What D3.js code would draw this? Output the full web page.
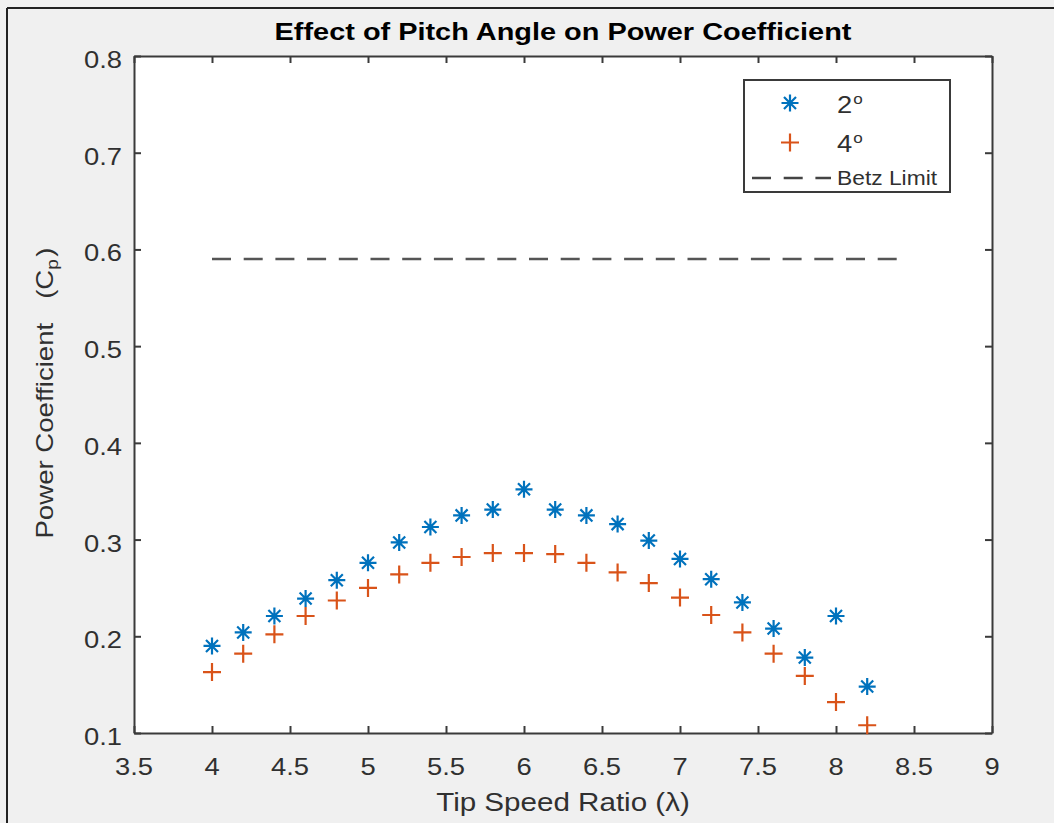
<!DOCTYPE html>
<html>
<head>
<meta charset="utf-8">
<script src="https://cdn.jsdelivr.net/npm/d3@7"></script>
<style>
  html, body { margin: 0; padding: 0; background: #f0f0f0; }
  svg { display: block; }
  text { font-family: "Liberation Sans", Arial, Helvetica, sans-serif; }
</style>
</head>
<body>
<svg id="chart" width="1054" height="823"></svg>
<script>
// ---- data ----
const tsr = [4.0, 4.2, 4.4, 4.6, 4.8, 5.0, 5.2, 5.4, 5.6, 5.8, 6.0, 6.2, 6.4, 6.6, 6.8, 7.0, 7.2, 7.4, 7.6, 7.8, 8.0, 8.2];
const cp2deg = [0.190, 0.204, 0.221, 0.239, 0.258, 0.276, 0.297, 0.313, 0.325, 0.331, 0.352, 0.331, 0.325, 0.316, 0.299, 0.280, 0.259, 0.235, 0.208, 0.178, 0.221, 0.148];
const cp4deg = [0.163, 0.182, 0.202, 0.221, 0.237, 0.250, 0.264, 0.276, 0.282, 0.286, 0.286, 0.285, 0.276, 0.266, 0.255, 0.240, 0.222, 0.204, 0.182, 0.159, 0.132, 0.108];
const betzLimit = 0.59;
const betzRange = [4.0, 8.4];
const xTicks = [3.5, 4, 4.5, 5, 5.5, 6, 6.5, 7, 7.5, 8, 8.5, 9];
const yTicks = [0.1, 0.2, 0.3, 0.4, 0.5, 0.6, 0.7, 0.8];
const seriesNames = ["2", "4"];
const titleText = "Effect of Pitch Angle on Power Coefficient";
const xLabelText = "Tip Speed Ratio (\u03BB)";
const yLabelMain = "Power Coefficient";
const betzName = "Betz Limit";

// ---- layout ----
const svg = d3.select("#chart");
const L = 134, R = 992, T = 56, B = 733;
const SX = 1.14; // horizontal text stretch
const blue = "#0072BD", orange = "#D95319";
const axisColor = "#3a3a3a", textColor = "#303030";

const x = d3.scaleLinear().domain([3.5, 9]).range([L, R]);
const y = d3.scaleLinear().domain([0.1, 0.8]).range([B, T]);

// figure border (top & left)
svg.append("line").attr("x1", 7).attr("x2", 1054).attr("y1", 8).attr("y2", 8)
  .attr("stroke", "#222").attr("stroke-width", 2);
svg.append("line").attr("x1", 7).attr("x2", 7).attr("y1", 8).attr("y2", 823)
  .attr("stroke", "#222").attr("stroke-width", 2);

// plot background
svg.append("rect").attr("x", L).attr("y", T).attr("width", R - L).attr("height", B - T)
  .attr("fill", "#fff");

function stretchedText(px, py, str, opts) {
  const g = svg.append("g").attr("transform", `translate(${px},${py}) scale(${opts.sx || SX},1)`);
  const t = g.append("text").text(str)
    .attr("font-size", opts.size)
    .attr("text-anchor", opts.anchor || "start")
    .attr("fill", opts.fill || textColor)
    .attr("font-weight", opts.weight || "normal");
  return t;
}

// axes (inward ticks, box)
const gx = svg.append("g").attr("transform", `translate(0,${B})`)
  .call(d3.axisBottom(x).tickValues(xTicks).tickSizeInner(-7).tickSizeOuter(0).tickFormat(""));
const gxt = svg.append("g").attr("transform", `translate(0,${T})`)
  .call(d3.axisTop(x).tickValues(xTicks).tickSizeInner(-7).tickSizeOuter(0).tickFormat(""));
const gy = svg.append("g").attr("transform", `translate(${L},0)`)
  .call(d3.axisLeft(y).tickValues(yTicks).tickSizeInner(-7).tickSizeOuter(0).tickFormat(""));
const gyr = svg.append("g").attr("transform", `translate(${R},0)`)
  .call(d3.axisRight(y).tickValues(yTicks).tickSizeInner(-7).tickSizeOuter(0).tickFormat(""));
[gx, gxt, gy, gyr].forEach(g => {
  g.selectAll("path.domain").attr("stroke", axisColor).attr("stroke-width", 2);
  g.selectAll(".tick line").attr("stroke", axisColor).attr("stroke-width", 2);
});

// tick labels
xTicks.forEach(v => stretchedText(x(v), 775, d3.format("")(v), {size: 24, anchor: "middle"}));
yTicks.forEach(v => stretchedText(122, y(v) + 12, v.toFixed(1), {size: 24, anchor: "end"}));

// title
stretchedText((L + R) / 2, 40, titleText, {size: 24.5, anchor: "middle", weight: "bold", fill: "#000", sx: 1.18});

// x label
stretchedText((L + R) / 2, 811, xLabelText, {size: 25.5, anchor: "middle", sx: 1.16});

// y label
const ylg = svg.append("g").attr("transform", `translate(53,${393}) rotate(-90) scale(1.2,1)`);
const yl = ylg.append("text")
  .attr("text-anchor", "middle").attr("font-size", 23).attr("fill", textColor);
yl.append("tspan").text(yLabelMain);
yl.append("tspan").text("(C").attr("dx", 20);
yl.append("tspan").text("p").attr("font-size", 16).attr("dy", 5);
yl.append("tspan").text(")").attr("dy", -5).attr("dx", 2);

// Betz line
svg.append("line")
  .attr("x1", x(betzRange[0])).attr("x2", x(betzRange[1]))
  .attr("y1", y(betzLimit)).attr("y2", y(betzLimit))
  .attr("stroke", "#555").attr("stroke-width", 2.5).attr("stroke-dasharray", "19,12.7");

// markers
function starPath(s) {
  const d = s * Math.SQRT1_2;
  return `M${-s},0L${s},0M0,${-s}L0,${s}M${-d},${-d}L${d},${d}M${-d},${d}L${d},${-d}`;
}
function plusPath(s) {
  return `M${-s},0L${s},0M0,${-s}L0,${s}`;
}
const pts2 = tsr.map((t, i) => ({t, v: cp2deg[i]}));
const pts4 = tsr.map((t, i) => ({t, v: cp4deg[i]}));

svg.append("g").selectAll("path").data(pts4).join("path")
  .attr("transform", d => `translate(${x(d.t)},${y(d.v)})`)
  .attr("d", plusPath(9)).attr("stroke", orange).attr("stroke-width", 2.2).attr("fill", "none");
svg.append("g").selectAll("path").data(pts2).join("path")
  .attr("transform", d => `translate(${x(d.t)},${y(d.v)})`)
  .attr("d", starPath(8.5)).attr("stroke", blue).attr("stroke-width", 2.2).attr("fill", "none");

// legend
const lg = svg.append("g");
lg.append("rect").attr("x", 744).attr("y", 80).attr("width", 206).attr("height", 112)
  .attr("fill", "#fff").attr("stroke", axisColor).attr("stroke-width", 2);
lg.append("path").attr("transform", "translate(790,103)").attr("d", starPath(8.5))
  .attr("stroke", blue).attr("stroke-width", 2.2).attr("fill", "none");
lg.append("path").attr("transform", "translate(790,142.5)").attr("d", plusPath(9))
  .attr("stroke", orange).attr("stroke-width", 2.2).attr("fill", "none");
lg.append("line").attr("x1", 752).attr("x2", 831).attr("y1", 178).attr("y2", 178)
  .attr("stroke", "#444").attr("stroke-width", 2.5).attr("stroke-dasharray", "19,12.7");

function degEntry(px, py, str) {
  const t = stretchedText(px, py, "", {size: 24});
  t.append("tspan").text(str);
  t.append("tspan").text("o").attr("font-size", 15).attr("dy", -9).attr("dx", 1);
}
degEntry(837, 113, seriesNames[0]);
degEntry(837, 152, seriesNames[1]);
stretchedText(837, 185, betzName, {size: 20});
</script>
</body>
</html>
